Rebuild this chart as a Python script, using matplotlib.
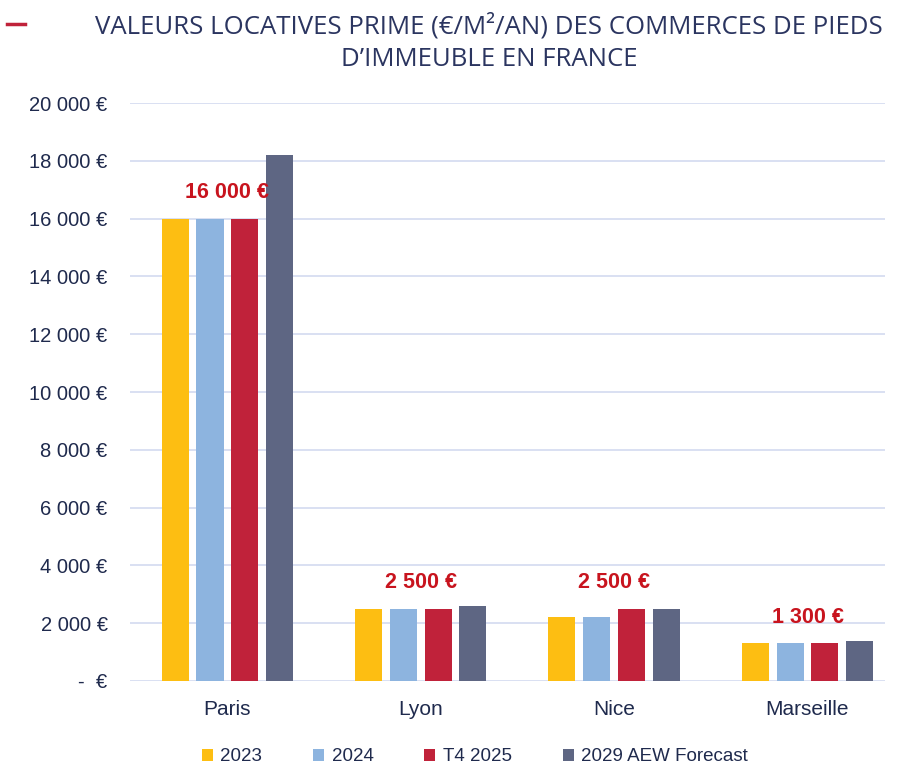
import numpy as np
import matplotlib
matplotlib.use("Agg")
import matplotlib.pyplot as plt

cities = ["Paris", "Lyon", "Nice", "Marseille"]
series_names = ["2023", "2024", "T4 2025", "2029 AEW Forecast"]
v_2023 = [16000, 2500, 2200, 1300]
v_2024 = [16000, 2500, 2200, 1300]
v_t4_2025 = [16000, 2500, 2500, 1300]
v_2029 = [18200, 2600, 2500, 1400]
labels = ["16 000 €", "2 500 €", "2 500 €", "1 300 €"]
label_values = [16000, 2500, 2500, 1300]
yticks = [0, 2000, 4000, 6000, 8000, 10000, 12000, 14000, 16000, 18000, 20000]

colors = ["#fdbe12", "#8db4df", "#c0223a", "#5e6683"]
navy = "#1f2a4d"
red = "#c8141e"

plt.rcParams["font.family"] = ["Liberation Sans", "DejaVu Sans"]

fig = plt.figure(figsize=(9.01, 7.66), dpi=100)
ax = fig.add_axes([0.144, 0.111, 0.838, 0.7545])

x = np.arange(len(cities))
width = 0.14
step = 0.18
all_series = [v_2023, v_2024, v_t4_2025, v_2029]
for i, vals in enumerate(all_series):
    ax.bar(x + (i - 1.5) * step, vals, width, color=colors[i], label=series_names[i], zorder=3)

# red value callouts above each group
for xi, txt, val in zip(x, labels, label_values):
    ax.text(xi, val + 900, txt, ha="center", va="center", color=red,
            fontsize=15.5, fontweight="bold")

ax.set_ylim(0, 20000)
ax.set_xlim(-0.505, 3.4)
ax.set_yticks(yticks)
ax.set_yticklabels(["-  €" if t == 0 else f"{t:,} €".replace(",", " ") for t in yticks])
ax.set_xticks(x)
ax.set_xticklabels(cities)
ax.tick_params(axis="y", length=0, labelsize=14.5, labelcolor=navy, pad=16)
ax.tick_params(axis="x", length=0, labelsize=15, labelcolor=navy, pad=14)
ax.grid(axis="y", color="#d3daf0", linewidth=1.2, zorder=0)
for s in ax.spines.values():
    s.set_visible(False)

fig.text(0.543, 0.966, "VALEURS LOCATIVES PRIME (€/M²/AN) DES COMMERCES DE PIEDS",
         ha="center", va="center", fontsize=18.5, color="#2b3560", family="Open Sans")
fig.text(0.543, 0.922, "D’IMMEUBLE EN FRANCE",
         ha="center", va="center", fontsize=18.5, color="#2b3560", family="Open Sans")
fig.add_artist(plt.Line2D([0.008, 0.028], [0.969, 0.969], color="#c0223a", linewidth=2.5))

fig.legend(loc="center", bbox_to_anchor=(0.527, 0.012), ncol=4, frameon=False,
           fontsize=13.5, handlelength=0.6, handleheight=0.6, handletextpad=0.4,
           columnspacing=2.7, labelcolor=navy)

fig.savefig("out.png", dpi=100)
